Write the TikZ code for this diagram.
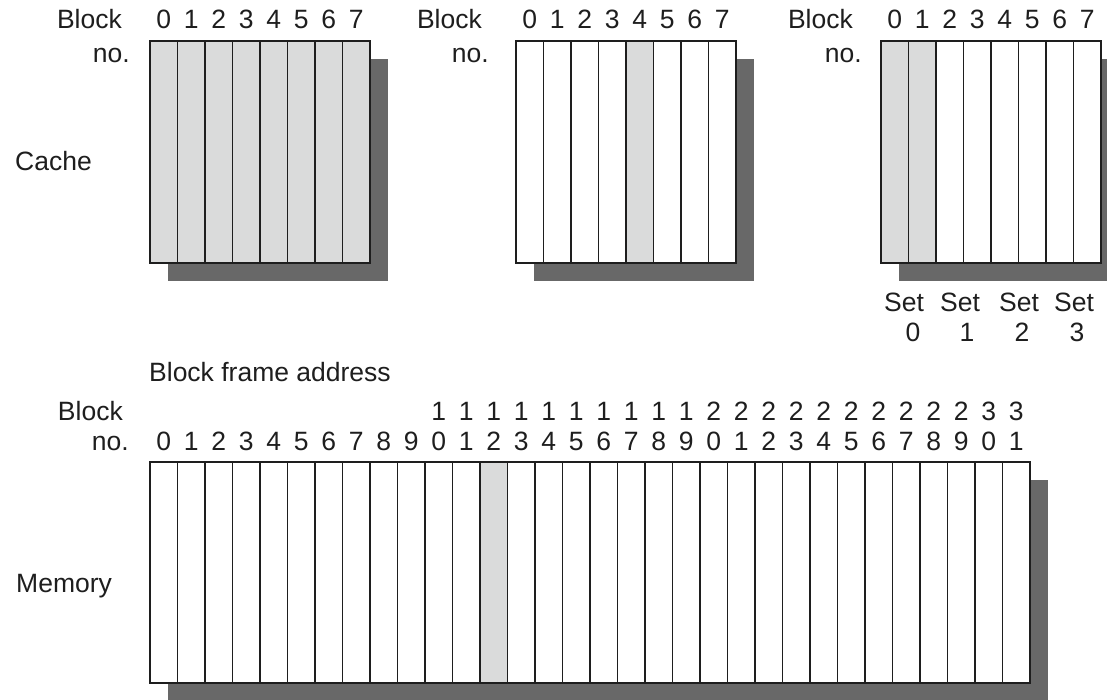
\documentclass[tikz,border=0pt]{standalone}
\usepackage{fontspec}
\setmainfont{Liberation Sans}
\definecolor{shadowgray}{RGB}{104,104,104}
\definecolor{cellgray}{RGB}{218,219,219}
\definecolor{inkgray}{RGB}{30,30,30}
\begin{document}
\begin{tikzpicture}[x=1pt,y=-1pt,
  lbl/.style={inner sep=0pt, text=inkgray, font=\fontsize{26.5}{30}\selectfont},
  cell/.style={draw=inkgray, line width=1.5pt, fill=white},
  hicell/.style={draw=inkgray, line width=1.5pt, fill=cellgray},
  shadowbox/.style={fill=shadowgray, draw=none}]
\useasboundingbox (0,0) rectangle (1107,700);

% ---------- Cache 1 (fully associative) ----------
\fill[shadowbox] (168,59) rectangle (388,281);
\foreach \i in {0,...,7} \draw[hicell] ({150+\i*27.5},41) rectangle ++(27.5,222);
\node[lbl, anchor=base east] (c1block) at (122,29) {Block};
\node[lbl, anchor=base east] (c1no) at (130,63) {no.};
\foreach \i in {0,...,7} \node[lbl, anchor=base] (c1d\i) at ({163.75+\i*27.5},29) {\i};
\node[lbl, anchor=base west] (cachelbl) at (15,171) {Cache};

% ---------- Cache 2 (direct mapped) ----------
\fill[shadowbox] (534,59) rectangle (754,281);
\foreach \i in {0,...,7} {
  \ifnum\i=4 \draw[hicell] ({516+\i*27.5},41) rectangle ++(27.5,222);
  \else \draw[cell] ({516+\i*27.5},41) rectangle ++(27.5,222); \fi
}
\node[lbl, anchor=base east] (c2block) at (482,29) {Block};
\node[lbl, anchor=base east] (c2no) at (489,63) {no.};
\foreach \i in {0,...,7} \node[lbl, anchor=base] (c2d\i) at ({529.75+\i*27.5},29) {\i};

% ---------- Cache 3 (set associative) ----------
\fill[shadowbox] (899,59) rectangle (1119,281);
\foreach \i in {0,...,7} {
  \ifnum\i<2 \draw[hicell] ({881+\i*27.5},41) rectangle ++(27.5,222);
  \else \draw[cell] ({881+\i*27.5},41) rectangle ++(27.5,222); \fi
}
\node[lbl, anchor=base east] (c3block) at (853,29) {Block};
\node[lbl, anchor=base east] (c3no) at (862,63) {no.};
\foreach \i in {0,...,7} \node[lbl, anchor=base] (c3d\i) at ({894.75+\i*27.5},29) {\i};
\foreach \s/\xs/\xd in {0/904/913, 1/960/967, 2/1019/1022, 3/1074/1077} {
  \node[lbl, anchor=base] (set\s) at (\xs,312) {Set};
  \node[lbl, anchor=base] (setn\s) at (\xd,341) {\s};
}

% ---------- Memory ----------
\fill[shadowbox] (168,480) rectangle (1048,702);
\foreach \i in {0,...,31} {
  \ifnum\i=12 \draw[hicell] ({150+\i*27.5},462) rectangle ++(27.5,221);
  \else \draw[cell] ({150+\i*27.5},462) rectangle ++(27.5,221); \fi
}
\node[lbl, anchor=base west] (bfa) at (149,381) {Block frame address};
\node[lbl, anchor=base east] (mblock) at (123,420) {Block};
\node[lbl, anchor=base east] (mno) at (129,450) {no.};
\foreach \i in {0,...,31} {
  \pgfmathtruncatemacro\myunits{mod(\i,10)}
  \pgfmathtruncatemacro\mytens{div(\i,10)}
  \node[lbl, anchor=base] (mu\i) at ({163.75+\i*27.5},450) {\myunits};
  \ifnum\i>9 \node[lbl, anchor=base] (mt\i) at ({163.75+\i*27.5},420) {\mytens}; \fi
}
\node[lbl, anchor=base west] (memlbl) at (16,592) {Memory};
\end{tikzpicture}
\end{document}
